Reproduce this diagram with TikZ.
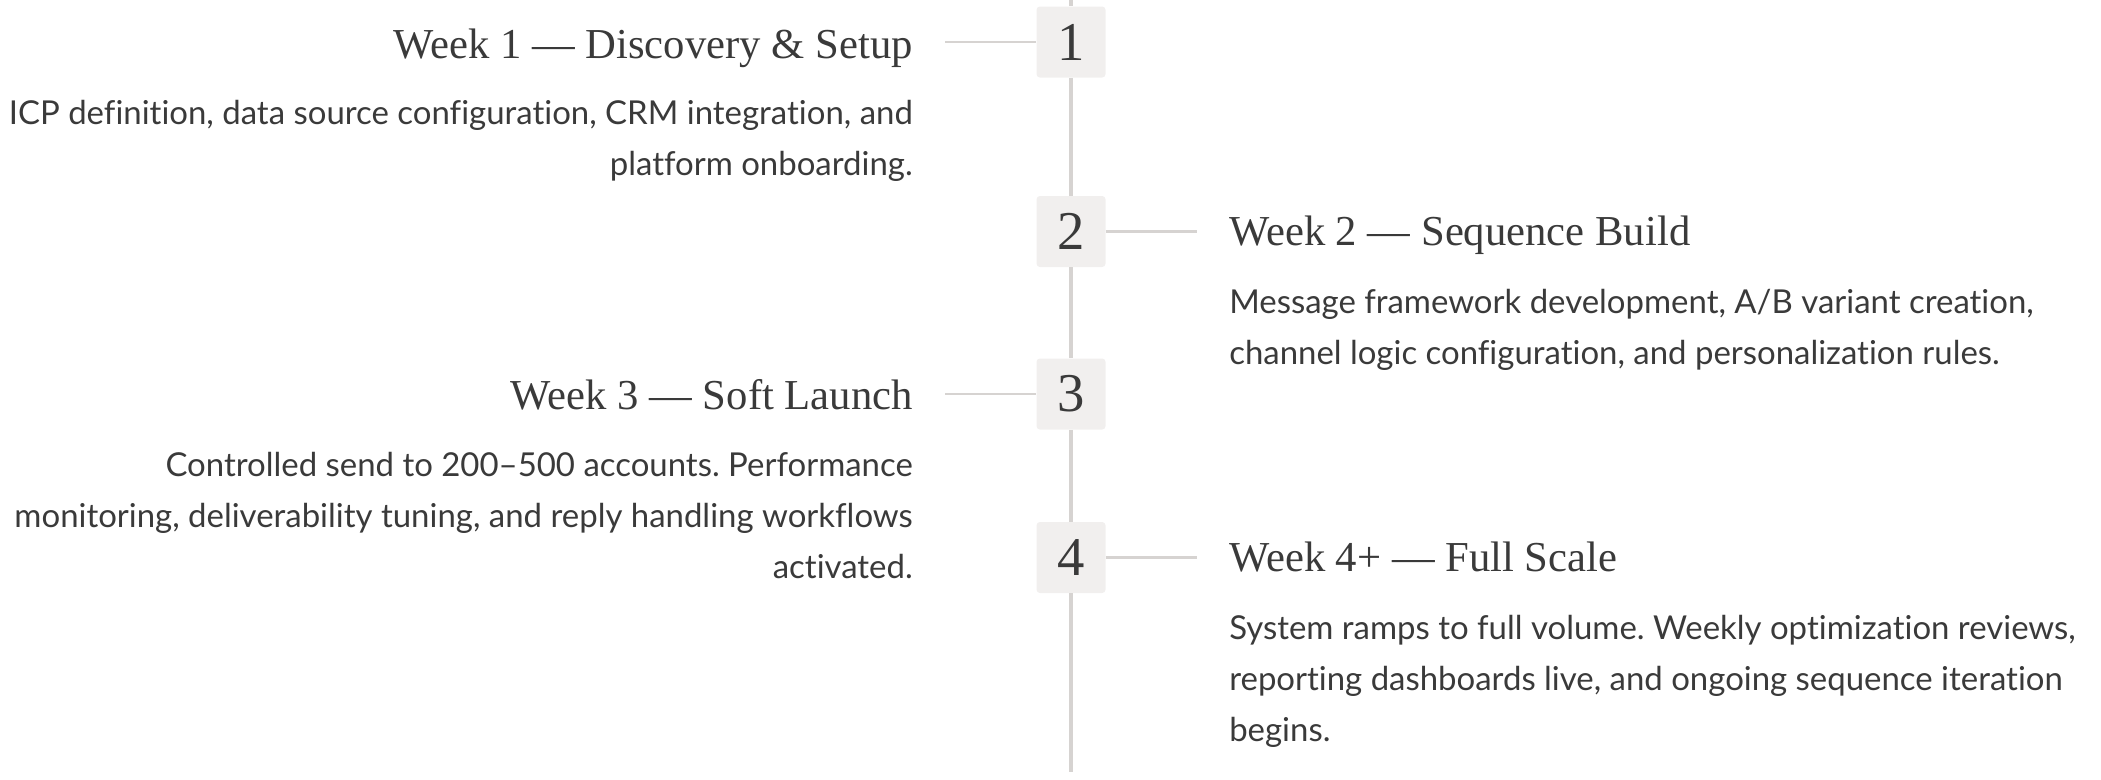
\documentclass[tikz,border=0pt]{standalone}
\usepackage{fontspec}
\setmainfont{Liberation Serif}
\newfontfamily\bodyfont[Ligatures=NoCommon]{Lato}
\definecolor{txt}{RGB}{58,58,58}
\definecolor{boxfill}{RGB}{241,239,238}
\definecolor{rulec}{RGB}{214,211,209}
\begin{document}
\frenchspacing
\begin{tikzpicture}[x=0.75pt,y=-0.75pt,
  numbox/.style={fill=boxfill,rounded corners=2.5pt,minimum width=51.75pt,minimum height=53.25pt,inner sep=0pt,text=txt,font=\fontsize{41}{41}\selectfont},
  ttl/.style={inner sep=0pt,text=txt,font=\fontsize{32}{32}\selectfont},
  body/.style={inner sep=0pt,text=txt,font=\bodyfont\fontsize{24.7}{24.7}\selectfont},
  spine/.style={draw=rulec,line width=2.6pt},
  tick/.style={draw=rulec,line width=2.2pt}]
\useasboundingbox (0,0) rectangle (2101,779);
\coordinate (top) at (1071,0);
\coordinate (bot) at (1071,772);
\node[numbox] (n1) at (1071,42) {1};
\node[numbox] (n2) at (1071,231.5) {2};
\node[numbox] (n3) at (1071,394) {3};
\node[numbox] (n4) at (1071,557.5) {4};
\draw[spine] (top) -- (n1.north);
\draw[spine] (n1.south) -- (n2.north);
\draw[spine] (n2.south) -- (n3.north);
\draw[spine] (n3.south) -- (n4.north);
\draw[spine] (n4.south) -- (bot);
\coordinate (c1) at (945,42);
\coordinate (c2) at (1197,231.5);
\coordinate (c3) at (945,394);
\coordinate (c4) at (1197,557.5);
\draw[tick] (c1) -- (n1.west);
\draw[tick] (n2.east) -- (c2);
\draw[tick] (c3) -- (n3.west);
\draw[tick] (n4.east) -- (c4);
% Week 1
\node[ttl,anchor=base east] (t1) at (913,58) {Week 1 — Discovery \& Setup};
\node[body,anchor=base east] (b1a) at (913,124) {ICP definition, data source configuration, CRM integration, and};
\node[body,anchor=base east] (b1b) at (913,175) {platform onboarding.};
% Week 2
\node[ttl,anchor=base west] (t2) at (1229,245) {Week 2 — Sequence Build};
\node[body,anchor=base west] (b2a) at (1229,313) {Message framework development, A/B variant creation,};
\node[body,anchor=base west] (b2b) at (1229,364) {channel logic configuration, and personalization rules.};
% Week 3
\node[ttl,anchor=base east] (t3) at (913,409) {Week 3 — Soft Launch};
\node[body,anchor=base east] (b3a) at (913,476) {Controlled send to 200–500 accounts. Performance};
\node[body,anchor=base east] (b3b) at (913,527) {monitoring, deliverability tuning, and reply handling workflows};
\node[body,anchor=base east] (b3c) at (913,578) {activated.};
% Week 4
\node[ttl,anchor=base west] (t4) at (1229,571) {Week 4+ — Full Scale};
\node[body,anchor=base west] (b4a) at (1229,639) {System ramps to full volume. Weekly optimization reviews,};
\node[body,anchor=base west] (b4b) at (1229,690) {reporting dashboards live, and ongoing sequence iteration};
\node[body,anchor=base west] (b4c) at (1229,741) {begins.};
\end{tikzpicture}
\end{document}
